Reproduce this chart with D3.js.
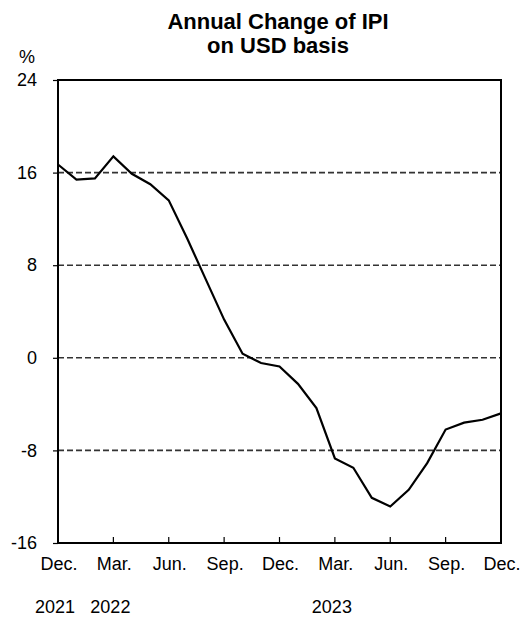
<!DOCTYPE html>
<html>
<head>
  <meta charset="utf-8">
  <script src="https://cdnjs.cloudflare.com/ajax/libs/d3/7.8.5/d3.min.js"></script>
  <style>
    body { margin: 0; background: #fff; }
    text { font-family: "Liberation Sans", Arial, sans-serif; fill: #000; }
  </style>
</head>
<body>
  <script>
    // monthly data, Dec 2021 .. Dec 2023
    var months = ["2021-12","2022-01","2022-02","2022-03","2022-04","2022-05","2022-06",
                  "2022-07","2022-08","2022-09","2022-10","2022-11","2022-12",
                  "2023-01","2023-02","2023-03","2023-04","2023-05","2023-06",
                  "2023-07","2023-08","2023-09","2023-10","2023-11","2023-12"];
    var ipiChange = [16.7, 15.4, 15.5, 17.4, 15.9, 15.0, 13.6,
                     10.3, 6.8, 3.3, 0.35, -0.45, -0.75,
                     -2.25, -4.35, -8.7, -9.5, -12.1, -12.85,
                     -11.4, -9.1, -6.2, -5.6, -5.35, -4.8];

    var yTicks = [-16, -8, 0, 8, 16, 24];
    var gridValues = [-8, 0, 8, 16];
    var xTickIdx = [0, 3, 6, 9, 12, 15, 18, 21, 24];
    var xTickLabels = ["Dec.", "Mar.", "Jun.", "Sep.", "Dec.", "Mar.", "Jun.", "Sep.", "Dec."];
    var yearIdx = [0, 3, 15];
    var yearLabels = ["2021", "2022", "2023"];

    var W = 525, H = 619;
    // plot box (note: "top" is a reserved window property, so use plot* names)
    var plotL = 58, plotR = 501, plotT = 80, plotB = 543;

    var svg = d3.select("body").append("svg")
      .attr("width", W).attr("height", H);

    var x = d3.scaleLinear().domain([0, months.length - 1]).range([plotL, plotR]);
    var y = d3.scaleLinear().domain([-16, 24]).range([plotB, plotT]);

    /* Title */
    svg.append("text").attr("x", 278).attr("y", 29)
      .attr("text-anchor", "middle").style("font-size", "22px").style("font-weight", "bold")
      .text("Annual Change of IPI");
    svg.append("text").attr("x", 278).attr("y", 53)
      .attr("text-anchor", "middle").style("font-size", "22px").style("font-weight", "bold")
      .text("on USD basis");

    svg.append("text").attr("x", 27).attr("y", 63)
      .attr("text-anchor", "middle").style("font-size", "18px")
      .text("%");

    /* dashed grid */
    svg.selectAll("line.grid")
      .data(gridValues)
      .enter()
      .append("line")
      .attr("class", "grid")
      .attr("x1", plotL).attr("x2", plotR)
      .attr("y1", d => y(d)).attr("y2", d => y(d))
      .style("stroke", "#333")
      .style("stroke-width", 1.6)
      .style("stroke-dasharray", "6,3");

    /* y axis: outward ticks, labels on the left (plain hyphen for minus) */
    var yAxis = d3.axisLeft(y).tickValues(yTicks).tickSize(5).tickPadding(16)
      .tickFormat(d => String(d));
    var gy = svg.append("g").attr("transform", "translate(" + plotL + ",0)").call(yAxis);
    gy.select(".domain").remove();
    gy.selectAll(".tick line").style("stroke", "#000").style("stroke-width", 1.2);
    gy.selectAll(".tick text").style("font-size", "18px").style("font-family", "Liberation Sans, Arial, sans-serif");

    /* x axis: inner ticks at quarter months */
    svg.selectAll("line.xtick")
      .data(xTickIdx.slice(1, -1))
      .enter()
      .append("line")
      .attr("class", "xtick")
      .attr("x1", d => x(d)).attr("x2", d => x(d))
      .attr("y1", plotB).attr("y2", plotB - 6)
      .style("stroke", "#000").style("stroke-width", 1.2);

    svg.selectAll("text.xlab")
      .data(xTickIdx)
      .enter()
      .append("text")
      .attr("class", "xlab")
      .attr("x", d => x(d) + 1)
      .attr("y", 570)
      .attr("text-anchor", "middle")
      .style("font-size", "18px")
      .text((d, i) => xTickLabels[i]);

    svg.selectAll("text.year")
      .data(yearIdx)
      .enter()
      .append("text")
      .attr("class", "year")
      .attr("x", d => x(d) - 3)
      .attr("y", 613)
      .attr("text-anchor", "middle")
      .style("font-size", "18px")
      .text((d, i) => yearLabels[i]);

    /* the series line */
    var line = d3.line()
      .x((d, i) => x(i))
      .y(d => y(d));

    svg.append("path")
      .datum(ipiChange)
      .attr("d", line)
      .style("fill", "none")
      .style("stroke", "#000")
      .style("stroke-width", 2.2)
      .style("stroke-linejoin", "miter");

    /* frame */
    svg.append("rect")
      .attr("x", plotL).attr("y", plotT)
      .attr("width", plotR - plotL).attr("height", plotB - plotT)
      .style("fill", "none")
      .style("stroke", "#000")
      .style("stroke-width", 2);
  </script>
</body>
</html>
